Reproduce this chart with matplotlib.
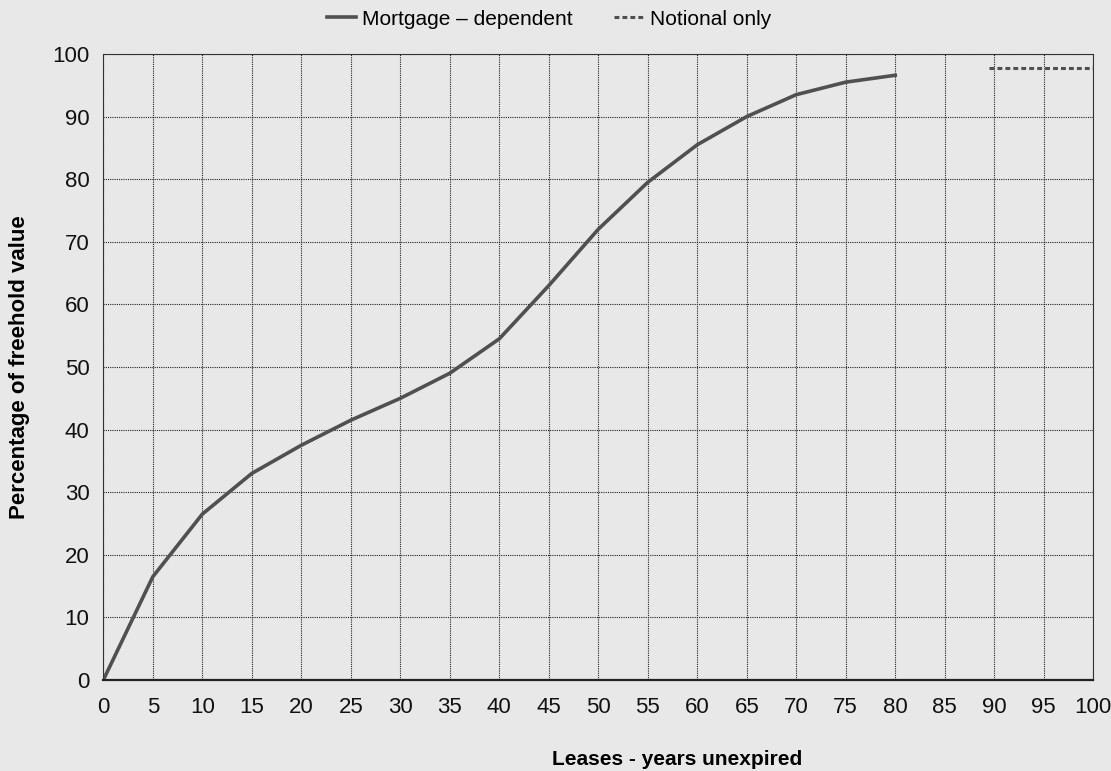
import matplotlib.pyplot as plt

# Werte
years = [0, 5, 10, 15, 20, 25, 30, 35, 40, 45, 50, 55, 60, 65, 70, 75, 80]
mortgage_pct = [0, 16.5, 26.5, 33, 37.5, 41.5, 45, 49, 54.5, 63, 72, 79.5,
                85.5, 90, 93.5, 95.5, 96.6]
notional_years = [89.5, 100]
notional_pct = [97.8, 97.8]

x_ticks = list(range(0, 101, 5))
y_ticks = list(range(0, 101, 10))

plt.rcParams['font.family'] = ['Liberation Sans Narrow', 'Arial Narrow',
                               'Liberation Sans', 'DejaVu Sans']

bg = '#e8e8e8'
fig = plt.figure(figsize=(11.11, 7.71), dpi=100, facecolor=bg)
ax = fig.add_axes([0.093, 0.118, 0.891, 0.812], facecolor=bg)

ax.plot(years, mortgage_pct, color='#505050', linewidth=2.6,
        label='Mortgage – dependent')
ax.plot(notional_years, notional_pct, color='#505050', linewidth=2.2,
        linestyle=(0, (1.6, 1.0)), label='Notional only')

ax.set_xlim(0, 100)
ax.set_ylim(0, 100)
ax.set_xticks(x_ticks)
ax.set_yticks(y_ticks)
ax.tick_params(length=0, labelsize=16, pad=12, colors='#111111')
ax.tick_params(axis='y', pad=10)

ax.grid(True, color='#222222', linewidth=0.8, linestyle=(0, (1, 1)))
for side in ['top', 'right', 'left']:
    ax.spines[side].set_color('#333333')
    ax.spines[side].set_linewidth(0.8)
    ax.spines[side].set_linestyle((0, (1, 1)))
ax.spines['bottom'].set_color('#222222')
ax.spines['bottom'].set_linewidth(1.6)

ax.set_xlabel('Leases - years unexpired', fontsize=15, fontweight='bold')
ax.xaxis.set_label_coords(0.58, -0.112)
ax.set_ylabel('Percentage of freehold value', fontsize=16, fontweight='bold',
              labelpad=16)

fig.legend(loc='center', bbox_to_anchor=(0.494, 0.975), ncol=2,
           frameon=False, fontsize=15, handlelength=1.4, handletextpad=0.3,
           columnspacing=2.0)

fig.savefig('out.png', dpi=100, facecolor=bg)
